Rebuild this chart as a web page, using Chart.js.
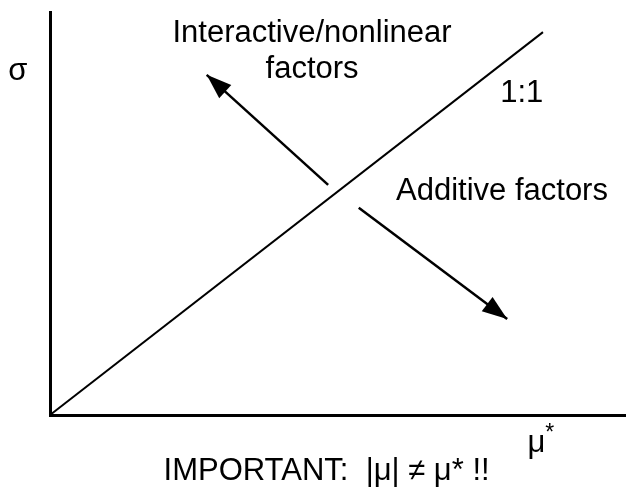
<!DOCTYPE html>
<html>
<head>
<meta charset="utf-8">
<script src="https://cdn.jsdelivr.net/npm/chart.js@4"></script>
<style>
  body { margin: 0; background: #fff; }
  #wrap { width: 626px; height: 494px; }
</style>
</head>
<body>
<div id="wrap"><canvas id="c"></canvas></div>
<script>
// 1:1 reference line (mu*, sigma)
const diagX = [0, 9.5];
const diagY = [0, 9.5];

// arrows: start point, then tip
const upArrowX = [5.36, 3.02];
const upArrowY = [5.71, 8.44];
const downArrowX = [5.95, 8.81];
const downArrowY = [5.14, 2.38];

// text labels and where they sit (data units)
const labelText = ["Interactive/nonlinear", "factors", "1:1", "Additive factors", "σ", "IMPORTANT:  |μ| ≠ μ* !!"];
const labelX = [5.05, 5.05, 9.09, 8.71, -0.62, 5.33];
const labelY = [9.26, 8.36, 7.77, 5.33, 8.31, -1.62];

const toPoints = (xs, ys) => xs.map((x, i) => ({ x: x, y: ys[i] }));

const FONT = '"Liberation Sans", Arial, Helvetica, sans-serif';

// draws arrowheads + text
const extras = {
  id: "extras",
  afterDatasetsDraw(chart) {
    const ctx = chart.ctx;
    const xs = chart.scales.x;
    const ys = chart.scales.y;

    chart.data.datasets.forEach((ds, i) => {
      if (!ds.arrow) return;
      const pts = chart.getDatasetMeta(i).data;
      const a = pts[pts.length - 2];
      const b = pts[pts.length - 1];
      const ang = Math.atan2(b.y - a.y, b.x - a.x);
      const len = 25, half = 9;
      ctx.save();
      ctx.translate(b.x, b.y);
      ctx.rotate(ang);
      ctx.beginPath();
      ctx.moveTo(0, 0);
      ctx.lineTo(-len, -half);
      ctx.lineTo(-len, half);
      ctx.closePath();
      ctx.fillStyle = "#000";
      ctx.fill();
      ctx.restore();
    });

    ctx.save();
    ctx.fillStyle = "#000";
    ctx.font = "31px " + FONT;
    ctx.textAlign = "center";
    ctx.textBaseline = "alphabetic";
    labelText.forEach((t, i) => {
      ctx.fillText(t, xs.getPixelForValue(labelX[i]), ys.getPixelForValue(labelY[i]));
    });

    // axis name mu* with raised star
    const mx = xs.getPixelForValue(9.2);
    const my = ys.getPixelForValue(-0.92);
    ctx.textAlign = "left";
    ctx.fillText("μ", mx, my);
    const w = ctx.measureText("μ").width;
    ctx.font = "23px " + FONT;
    ctx.fillText("*", mx + w, my - 12);
    ctx.restore();
  }
};

new Chart(document.getElementById("c"), {
  type: "scatter",
  data: {
    datasets: [
      { data: toPoints(diagX, diagY), showLine: true, borderColor: "#000", borderWidth: 2, pointRadius: 0, clip: false },
      { data: toPoints(upArrowX, upArrowY), showLine: true, borderColor: "#000", borderWidth: 2.5, pointRadius: 0, clip: false, arrow: true },
      { data: toPoints(downArrowX, downArrowY), showLine: true, borderColor: "#000", borderWidth: 2.5, pointRadius: 0, clip: false, arrow: true }
    ]
  },
  options: {
    responsive: true,
    maintainAspectRatio: false,
    animation: false,
    events: [],
    layout: { padding: { left: 42, top: 12, right: 0, bottom: 71 } },
    plugins: { legend: { display: false }, tooltip: { enabled: false } },
    scales: {
      x: {
        type: "linear", min: 0, max: 11.1,
        grid: { display: false },
        ticks: { display: false },
        border: { display: true, color: "#000", width: 3 }
      },
      y: {
        type: "linear", min: 0, max: 10,
        grid: { display: false },
        ticks: { display: false },
        border: { display: true, color: "#000", width: 3 }
      }
    }
  },
  plugins: [extras]
});
</script>
</body>
</html>
